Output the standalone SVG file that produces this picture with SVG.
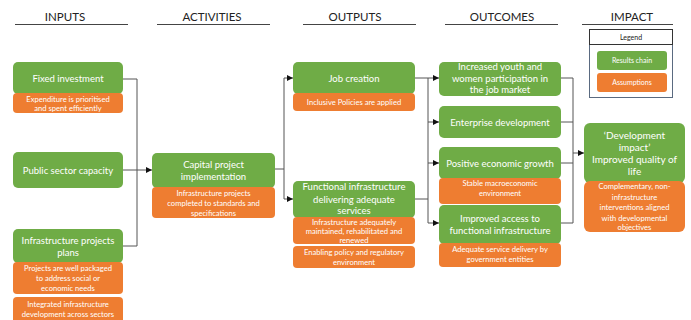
<svg xmlns="http://www.w3.org/2000/svg" width="691" height="320" viewBox="0 0 691 320">
  <defs>
    <marker id="arrow" viewBox="0 0 10 10" refX="10" refY="5" markerWidth="6" markerHeight="6" orient="auto" markerUnits="userSpaceOnUse">
      <path d="M0,0 L10,5 L0,10 z" fill="#111"/>
    </marker>
    <style>
      .head { font-family: Lato, "Open Sans", sans-serif; font-size: 11.5px; fill: #222; text-anchor: middle; }
      .rule { stroke: #444; stroke-width: 1; }
      .g { fill: #6fac46; }
      .o { fill: #ee7d31; }
      .gt { font-family: Lato, "Open Sans", sans-serif; font-size: 9.5px; fill: #fff; text-anchor: middle; }
      .ot { font-family: Lato, "Open Sans", sans-serif; font-size: 7.6px; fill: #fff; text-anchor: middle; }
      .it { font-family: Lato, "Open Sans", sans-serif; font-size: 10px; fill: #fff; text-anchor: middle; }
      .lt { font-family: Lato, "Open Sans", sans-serif; font-size: 7px; fill: #fff; text-anchor: middle; }
      .conn { fill: none; stroke: #555; stroke-width: 1; }
      .arr { fill: none; stroke: #555; stroke-width: 1; marker-end: url(#arrow); }
    </style>
  </defs>
  <rect width="691" height="320" fill="#fff"/>

  <!-- Column headings -->
  <g id="headings">
    <text class="head" x="65" y="21">INPUTS</text>
    <line class="rule" x1="15" y1="24.5" x2="128" y2="24.5"/>
    <text class="head" x="212" y="21">ACTIVITIES</text>
    <line class="rule" x1="157" y1="24.5" x2="270" y2="24.5"/>
    <text class="head" x="355" y="21">OUTPUTS</text>
    <line class="rule" x1="303" y1="24.5" x2="416" y2="24.5"/>
    <text class="head" x="502" y="21">OUTCOMES</text>
    <line class="rule" x1="445" y1="24.5" x2="558" y2="24.5"/>
    <text class="head" x="632" y="21">IMPACT</text>
    <line class="rule" x1="582" y1="24.5" x2="673" y2="24.5"/>
  </g>

  <!-- Legend -->
  <g id="legend">
    <rect x="589.5" y="29.5" width="83" height="68" fill="#fff" stroke="#5a6a80" stroke-width="1"/>
    <rect x="589.5" y="29.5" width="83" height="15" fill="#fff" stroke="#333" stroke-width="1"/>
    <text x="631" y="40" font-family="Lato, 'Open Sans', sans-serif" font-size="7px" fill="#222" text-anchor="middle">Legend</text>
    <rect class="g" x="597" y="51" width="70" height="19" rx="3"/>
    <text class="lt" x="632" y="63">Results chain</text>
    <rect class="o" x="597" y="73" width="70" height="19" rx="3"/>
    <text class="lt" x="632" y="85">Assumptions</text>
  </g>

  <!-- Connectors -->
  <g id="connectors">
    <polyline class="conn" points="123,79 137,79 137,246 123,246"/>
    <line class="arr" x1="123" y1="170" x2="152" y2="170"/>
    <polyline class="conn" points="275,169 284,169"/>
    <line class="conn" x1="284" y1="78" x2="284" y2="199"/>
    <line class="arr" x1="284" y1="78" x2="293" y2="78"/>
    <line class="arr" x1="284" y1="199" x2="293" y2="199"/>
    <line class="conn" x1="415" y1="78" x2="428" y2="78"/>
    <line class="conn" x1="415" y1="199" x2="428" y2="199"/>
    <line class="conn" x1="428" y1="78" x2="428" y2="223"/>
    <line class="arr" x1="428" y1="78" x2="439" y2="78"/>
    <line class="arr" x1="428" y1="122" x2="439" y2="122"/>
    <line class="arr" x1="428" y1="163" x2="439" y2="163"/>
    <line class="arr" x1="428" y1="223" x2="439" y2="223"/>
    <line class="conn" x1="561" y1="78" x2="573" y2="78"/>
    <line class="conn" x1="561" y1="122" x2="573" y2="122"/>
    <line class="conn" x1="561" y1="163" x2="573" y2="163"/>
    <line class="conn" x1="561" y1="223" x2="573" y2="223"/>
    <line class="conn" x1="573" y1="78" x2="573" y2="223"/>
    <line class="arr" x1="573" y1="153" x2="584" y2="153"/>
  </g>

  <!-- Inputs -->
  <g id="fixed-investment">
    <rect class="g" x="13" y="62" width="110" height="32" rx="5"/>
    <text class="gt" x="68" y="82">Fixed investment</text>
    <rect class="o" x="13" y="93" width="110" height="20" rx="4"/>
    <text class="ot" x="68" y="101.5">Expenditure is prioritised</text>
    <text class="ot" x="68" y="110.5">and spent efficiently</text>
  </g>
  <g id="public-sector-capacity">
    <rect class="g" x="13" y="152" width="110" height="36" rx="5"/>
    <text class="gt" x="68" y="173.5">Public sector capacity</text>
  </g>
  <g id="infrastructure-plans">
    <rect class="g" x="13" y="229" width="110" height="34" rx="5"/>
    <text class="gt" x="68" y="243.5">Infrastructure projects</text>
    <text class="gt" x="68" y="255.5">plans</text>
    <rect class="o" x="13" y="262" width="110" height="32" rx="4"/>
    <text class="ot" x="68" y="270.5">Projects are well packaged</text>
    <text class="ot" x="68" y="280.5">to address social or</text>
    <text class="ot" x="68" y="290.5">economic needs</text>
    <rect class="o" x="13" y="297" width="110" height="26" rx="4"/>
    <text class="ot" x="68" y="306.5">Integrated infrastructure</text>
    <text class="ot" x="68" y="316.5">development  across sectors</text>
  </g>

  <!-- Activities -->
  <g id="capital-project">
    <rect class="g" x="152" y="153" width="123" height="35" rx="5"/>
    <text class="gt" x="213.5" y="167.5">Capital project</text>
    <text class="gt" x="213.5" y="179.5">implementation</text>
    <rect class="o" x="152" y="187" width="123" height="31" rx="4"/>
    <text class="ot" x="213.5" y="195.5">Infrastructure projects</text>
    <text class="ot" x="213.5" y="205.5">completed to standards and</text>
    <text class="ot" x="213.5" y="215.5">specifications</text>
  </g>

  <!-- Outputs -->
  <g id="job-creation">
    <rect class="g" x="293" y="62" width="122" height="32" rx="5"/>
    <text class="gt" x="354" y="81.5">Job creation</text>
    <rect class="o" x="293" y="93" width="122" height="18" rx="4"/>
    <text class="ot" x="354" y="104.5">Inclusive Policies are applied</text>
  </g>
  <g id="functional-infrastructure">
    <rect class="g" x="293" y="181" width="122" height="37" rx="5"/>
    <text class="gt" x="354" y="190">Functional infrastructure</text>
    <text class="gt" x="354" y="202.5">delivering adequate</text>
    <text class="gt" x="354" y="214">services</text>
    <rect class="o" x="293" y="217" width="122" height="27" rx="4"/>
    <text class="ot" x="354" y="224.5">Infrastructure adequately</text>
    <text class="ot" x="354" y="234">maintained, rehabilitated and</text>
    <text class="ot" x="354" y="243">renewed</text>
    <rect class="o" x="293" y="246" width="122" height="22" rx="4"/>
    <text class="ot" x="354" y="254.5">Enabling policy and regulatory</text>
    <text class="ot" x="354" y="264.5">environment</text>
  </g>

  <!-- Outcomes -->
  <g id="youth-women">
    <rect class="g" x="439" y="62" width="122" height="34" rx="5"/>
    <text class="gt" x="500" y="70">Increased youth and</text>
    <text class="gt" x="500" y="81.5">women participation in</text>
    <text class="gt" x="500" y="93">the job market</text>
  </g>
  <g id="enterprise-development">
    <rect class="g" x="439" y="106" width="122" height="32" rx="5"/>
    <text class="gt" x="500" y="125.5">Enterprise development</text>
  </g>
  <g id="economic-growth">
    <rect class="g" x="439" y="147" width="122" height="32" rx="5"/>
    <text class="gt" x="500" y="166.5">Positive economic growth</text>
    <rect class="o" x="439" y="178" width="122" height="26" rx="4"/>
    <text class="ot" x="500" y="186">Stable macroeconomic</text>
    <text class="ot" x="500" y="196">environment</text>
  </g>
  <g id="improved-access">
    <rect class="g" x="439" y="205" width="122" height="39" rx="5"/>
    <text class="gt" x="500" y="221.5">Improved access to</text>
    <text class="gt" x="500" y="233.5">functional infrastructure</text>
    <rect class="o" x="439" y="243" width="122" height="24" rx="4"/>
    <text class="ot" x="500" y="252">Adequate service delivery by</text>
    <text class="ot" x="500" y="262">government  entities</text>
  </g>

  <!-- Impact -->
  <g id="development-impact">
    <rect class="g" x="584" y="123" width="101" height="60" rx="6"/>
    <text class="it" x="634.5" y="138.5">‘Development</text>
    <text class="it" x="634.5" y="150.5">impact’</text>
    <text class="it" x="634.5" y="162.5">Improved quality of</text>
    <text class="it" x="634.5" y="174.5">life</text>
    <rect class="o" x="584" y="181" width="101" height="51" rx="6"/>
    <text class="ot" x="634.5" y="189">Complementary, non-</text>
    <text class="ot" x="634.5" y="199.5">infrastructure</text>
    <text class="ot" x="634.5" y="210">interventions aligned</text>
    <text class="ot" x="634.5" y="220.5">with developmental</text>
    <text class="ot" x="634.5" y="230">objectives</text>
  </g>
</svg>
